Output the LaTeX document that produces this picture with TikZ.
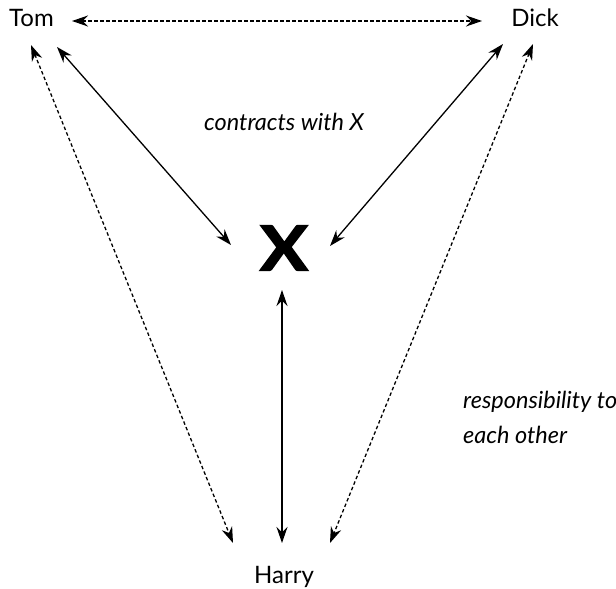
\documentclass[tikz,border=0pt]{standalone}
\usepackage{fontspec}
\setmainfont{Lato}
\newfontfamily\bigxfont[FakeBold=2.5]{Lato}
\usetikzlibrary{arrows.meta}
\begin{document}
\begin{tikzpicture}[x=1pt,y=-1pt,
  person/.style={font=\fontsize{24}{28}\selectfont, inner sep=0pt, anchor=base},
  lbl/.style={font=\fontsize{23.5}{35}\selectfont\itshape, inner sep=0pt, align=left},
  solidarr/.style={line width=1.3pt, {Stealth[length=16pt,width=11pt]}-{Stealth[length=16pt,width=11pt]}},
  dasharr/.style={solidarr, dash pattern=on 3.5pt off 2.5pt}]
\useasboundingbox (0,0) rectangle (616,589);
\node[person] (tom) at (31.5,27) {Tom};
\node[person] (dick) at (535,27) {Dick};
\node[person] (harry) at (284,583) {Harry};
\node[inner sep=0pt, font=\fontsize{62}{62}\bigxfont\bfseries, xscale=1.15] (x) at (284,248) {X};
\node[lbl, anchor=base] (contracts) at (284,130) {contracts with X};
\node[lbl, anchor=base west] (resp) at (463,443) {responsibility to\\each other};
\draw[dasharr] ([shift={(40.5,-6)}]tom.base) -- ([shift={(-53,-6)}]dick.base);
\draw[solidarr] ([shift={(25.5,20)}]tom.base) -- ([shift={(-53,-3)}]x.center);
\draw[solidarr] ([shift={(-32,17)}]dick.base) -- ([shift={(46,-2)}]x.center);
\draw[dasharr] ([shift={(-0.5,18)}]tom.base) -- ([shift={(-51,-40)}]harry.base);
\draw[dasharr] ([shift={(-2,17)}]dick.base) -- ([shift={(46,-40)}]harry.base);
\draw[solidarr] ([shift={(-2,42)}]x.center) -- ([shift={(-2,-40)}]harry.base);
\end{tikzpicture}
\end{document}
